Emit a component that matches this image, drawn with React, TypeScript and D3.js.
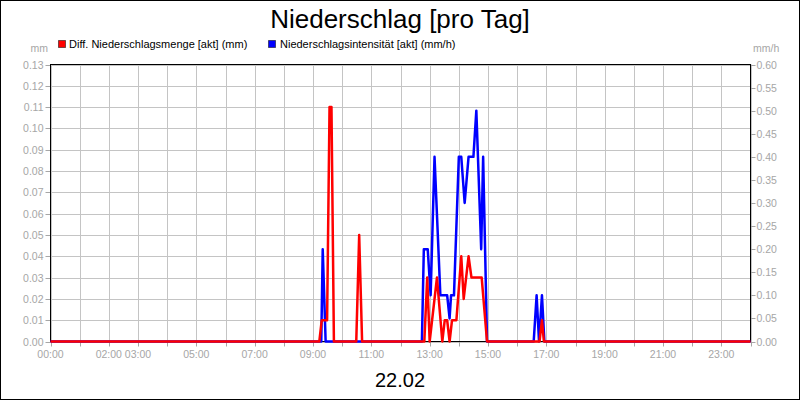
import React from "react";
import * as d3 from "d3";

const TITLE = "Niederschlag [pro Tag]";
const DATE_LABEL = "22.02";
const RED_NAME = "Diff. Niederschlagsmenge [akt] (mm)";
const BLUE_NAME = "Niederschlagsintensität [akt] (mm/h)";

const xLabelHours = [0, 2, 3, 5, 7, 9, 11, 13, 15, 17, 19, 21, 23];
const leftTicks = [0, 0.01, 0.02, 0.03, 0.04, 0.05, 0.06, 0.07, 0.08, 0.09, 0.1, 0.11, 0.12, 0.13];
const rightTicks = [0, 0.05, 0.1, 0.15, 0.2, 0.25, 0.3, 0.35, 0.4, 0.45, 0.5, 0.55, 0.6];

const redTimes = ["00:00", "09:13", "09:18", "09:29", "09:34", "09:38", "09:43", "10:29", "10:35", "10:41", "12:49", "12:55", "13:00", "13:15", "13:26", "13:31", "13:36", "13:41", "13:46", "13:55", "14:05", "14:10", "14:20", "14:26", "14:47", "14:58", "16:46", "16:51", "16:55", "24:00"];
const redValues = [0, 0, 0.01, 0.01, 0.11, 0.11, 0, 0, 0.05, 0, 0, 0.03, 0, 0.03, 0, 0.01, 0.01, 0, 0.01, 0.01, 0.04, 0.02, 0.04, 0.03, 0.03, 0, 0, 0.01, 0, 0];

const blueTimes = ["00:00", "09:17", "09:20", "09:26", "12:44", "12:48", "12:56", "13:02", "13:10", "13:22", "13:36", "13:41", "13:44", "13:50", "14:00", "14:05", "14:12", "14:20", "14:30", "14:36", "14:46", "14:50", "14:58", "16:34", "16:40", "16:45", "16:51", "16:56", "24:00"];
const blueValues = [0, 0, 0.2, 0, 0, 0.2, 0.2, 0.1, 0.4, 0.1, 0.1, 0.05, 0.1, 0.1, 0.4, 0.4, 0.3, 0.4, 0.4, 0.5, 0.2, 0.4, 0, 0, 0.1, 0, 0.1, 0, 0];

const toMin = (s: string) => {
  const [h, m] = s.split(":").map(Number);
  return h * 60 + m;
};
const pad = (n: number) => (n < 10 ? "0" + n : "" + n);

const FONT = "'Liberation Sans', Arial, Helvetica, sans-serif";
const TICK_COLOR = "#a6a6a6";
const GRID = "#c4c4c4";

export default function App() {
  const W = 800, H = 400;
  const L = 50.5, R = 750.5, T = 64.5, B = 341.5;
  const x = d3.scaleLinear().domain([0, 1440]).range([L, R]);
  const yL = d3.scaleLinear().domain([0, 0.13]).range([B, T]);
  const yR = d3.scaleLinear().domain([0, 0.6]).range([B, T]);

  const redData = redTimes.map((t, i) => ({ t: toMin(t), v: redValues[i] }));
  const blueData = blueTimes.map((t, i) => ({ t: toMin(t), v: blueValues[i] }));

  const redLine = d3.line<{ t: number; v: number }>().x(d => x(d.t)).y(d => yL(d.v));
  const blueLine = d3.line<{ t: number; v: number }>().x(d => x(d.t)).y(d => yR(d.v));

  const hours = d3.range(0, 25);

  return (
    <svg width={W} height={H} style={{ position: "absolute", left: 0, top: 0, background: "#fff" }} fontFamily={FONT}>
      <rect x={0.5} y={0.5} width={W - 1} height={H - 1} fill="#fff" stroke="#000" />
      <text x={400} y={28} textAnchor="middle" fontSize={26} fill="#000">{TITLE}</text>

      {/* legend */}
      <rect x={58.5} y={40.5} width={7} height={7} fill="#ff0000" stroke="#000" strokeOpacity={0.5} />
      <text x={69} y={48} fontSize={11} fill="#000">{RED_NAME}</text>
      <rect x={268.5} y={40.5} width={7} height={7} fill="#0000ff" stroke="#000" strokeOpacity={0.5} />
      <text x={280} y={48} fontSize={11} fill="#000">{BLUE_NAME}</text>

      <text x={48} y={52} textAnchor="end" fontSize={10.5} fill={TICK_COLOR}>mm</text>
      <text x={753} y={52} fontSize={10.5} fill={TICK_COLOR}>mm/h</text>

      {/* grid */}
      {leftTicks.map(v => (
        <line key={"gy" + v} x1={L} x2={R} y1={Math.round(yL(v)) + 0.5} y2={Math.round(yL(v)) + 0.5} stroke={GRID} />
      ))}
      {hours.map(h => (
        <line key={"gx" + h} x1={Math.round(x(h * 60)) + 0.5} x2={Math.round(x(h * 60)) + 0.5} y1={T} y2={B} stroke={GRID} />
      ))}

      {/* left axis */}
      {leftTicks.map(v => (
        <g key={"lt" + v}>
          <line x1={L - 5} x2={L} y1={Math.round(yL(v)) + 0.5} y2={Math.round(yL(v)) + 0.5} stroke={TICK_COLOR} />
          <text x={L - 7} y={yL(v) + 4} textAnchor="end" fontSize={10.5} fill={TICK_COLOR}>{v.toFixed(2)}</text>
        </g>
      ))}
      {/* right axis */}
      {rightTicks.map(v => (
        <g key={"rt" + v}>
          <line x1={R} x2={R + 5} y1={Math.round(yR(v)) + 0.5} y2={Math.round(yR(v)) + 0.5} stroke={TICK_COLOR} />
          <text x={R + 6} y={yR(v) + 4} fontSize={10.5} fill={TICK_COLOR}>{v.toFixed(2)}</text>
        </g>
      ))}
      {/* bottom axis */}
      {hours.map(h => (
        <line key={"bt" + h} x1={Math.round(x(h * 60)) + 0.5} x2={Math.round(x(h * 60)) + 0.5} y1={B} y2={B + 5} stroke={TICK_COLOR} />
      ))}
      {xLabelHours.map(h => (
        <text key={"bl" + h} x={x(h * 60)} y={358} textAnchor="middle" fontSize={10.5} fill={TICK_COLOR}>{pad(h) + ":00"}</text>
      ))}

      <rect x={L} y={T} width={R - L} height={B - T} fill="none" stroke="#000" />

      <path d={blueLine(blueData) || ""} fill="none" stroke="#0000ff" strokeWidth={2.5} strokeLinejoin="round" />
      <path d={redLine(redData) || ""} fill="none" stroke="#ff0000" strokeWidth={2.5} strokeLinejoin="round" />

      <text x={400} y={387} textAnchor="middle" fontSize={20} fill="#000">{DATE_LABEL}</text>
    </svg>
  );
}
